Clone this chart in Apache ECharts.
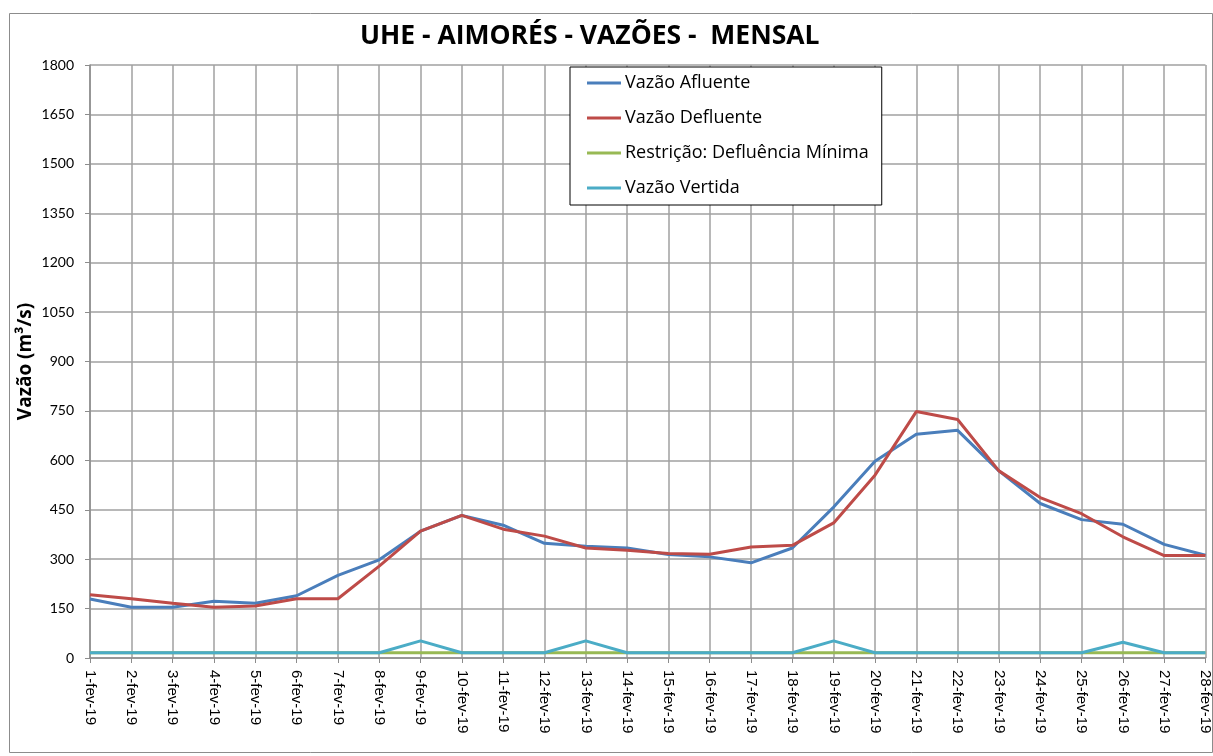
<!DOCTYPE html>
<html>
<head>
<meta charset="utf-8">
<script src="https://cdn.jsdelivr.net/npm/echarts@6/dist/echarts.min.js"></script>
<style>
  html, body { margin: 0; padding: 0; background: #fff; }
  #main { width: 1213px; height: 756px; }
</style>
</head>
<body>
<div id="main"></div>
<script>
// dias de fevereiro/2019
var dias = ['1-fev-19', '2-fev-19', '3-fev-19', '4-fev-19', '5-fev-19', '6-fev-19', '7-fev-19',
  '8-fev-19', '9-fev-19', '10-fev-19', '11-fev-19', '12-fev-19', '13-fev-19', '14-fev-19',
  '15-fev-19', '16-fev-19', '17-fev-19', '18-fev-19', '19-fev-19', '20-fev-19', '21-fev-19',
  '22-fev-19', '23-fev-19', '24-fev-19', '25-fev-19', '26-fev-19', '27-fev-19', '28-fev-19'];

var afluente = [179, 154, 154, 172, 166, 189, 251, 298, 385, 433, 403, 348, 339, 334,
  314, 307, 289, 334, 458, 597, 679, 691, 568, 469, 420, 406, 345, 312];

var defluente = [192, 180, 166, 154, 158, 180, 180, 279, 385, 433, 391, 370, 334, 327,
  317, 315, 337, 342, 410, 555, 748, 724, 568, 487, 438, 368, 311, 311];

var defluenciaMinima = [16, 16, 16, 16, 16, 16, 16, 16, 16, 16, 16, 16, 16, 16,
  16, 16, 16, 16, 16, 16, 16, 16, 16, 16, 16, 16, 16, 16];

var vertida = [16, 16, 16, 16, 16, 16, 16, 16, 52, 16, 16, 16, 52, 16,
  16, 16, 16, 16, 52, 16, 16, 16, 16, 16, 16, 48, 16, 16];

var chart = echarts.init(document.getElementById('main'), null, { renderer: 'canvas' });

function linha(nome, dados, cor) {
  return {
    name: nome,
    type: 'line',
    data: dados,
    symbol: 'none',
    lineStyle: { color: cor, width: 3 },
    itemStyle: { color: cor },
    animation: false
  };
}

var option = {
  backgroundColor: '#fff',
  textStyle: { fontFamily: '"Open Sans", sans-serif' },
  graphic: [
    {
      type: 'rect',
      left: 7, top: 11,
      shape: { width: 1203, height: 739 },
      style: { fill: 'none', stroke: '#8c8c8c', lineWidth: 1 },
      silent: true
    }
  ],
  title: {
    text: 'UHE - AIMORÉS - VAZÕES -  MENSAL',
    left: 355,
    top: 18,
    textStyle: { fontSize: 26.5, fontWeight: 'bold', color: '#000', fontFamily: '"Open Sans", sans-serif' }
  },
  legend: {
    orient: 'vertical',
    left: 570,
    top: 67,
    backgroundColor: '#fff',
    borderColor: '#000',
    borderWidth: 1,
    padding: [7, 13, 8, 17],
    itemGap: 17,
    itemWidth: 34,
    itemHeight: 3,
    icon: 'rect',
    textStyle: { fontSize: 18, color: '#000', padding: [0, 0, 0, -1], fontFamily: '"Open Sans", sans-serif' },
    data: ['Vazão Afluente', 'Vazão Defluente', 'Restrição: Defluência Mínima', 'Vazão Vertida']
  },
  grid: {
    left: 90,
    right: 6,
    top: 65,
    bottom: 98
  },
  xAxis: {
    type: 'category',
    data: dias,
    boundaryGap: false,
    axisLine: { lineStyle: { color: '#8c8c8c', width: 1.5 } },
    axisTick: { show: true, alignWithLabel: true, length: 5, lineStyle: { color: '#8c8c8c' } },
    axisLabel: { rotate: -90, fontSize: 15, color: '#000', margin: 12, interval: 0, fontFamily: '"Liberation Sans", Arial, sans-serif' },
    splitLine: { show: true, lineStyle: { color: '#a0a0a0', width: 1.5 } }
  },
  yAxis: {
    type: 'value',
    min: 0,
    max: 1800,
    interval: 150,
    name: 'Vazão (m³/s)',
    nameLocation: 'middle',
    nameGap: 55,
    nameMoveOverlap: false,
    nameTextStyle: { fontSize: 19, fontWeight: 'bold', color: '#000', fontFamily: '"Open Sans", sans-serif' },
    axisLine: { show: true, lineStyle: { color: '#8c8c8c', width: 1.5 } },
    axisTick: { show: true, length: 5, lineStyle: { color: '#8c8c8c' } },
    axisLabel: { fontSize: 14, color: '#000', margin: 16, fontFamily: 'Lato, sans-serif', formatter: function (v) { return String(v); } },
    splitLine: { show: true, lineStyle: { color: '#a0a0a0', width: 1.5 } }
  },
  series: [
    linha('Vazão Afluente', afluente, '#4a7ebb'),
    linha('Vazão Defluente', defluente, '#be4b48'),
    linha('Restrição: Defluência Mínima', defluenciaMinima, '#98b954'),
    linha('Vazão Vertida', vertida, '#4bacc6')
  ]
};

chart.setOption(option);
</script>
</body>
</html>
